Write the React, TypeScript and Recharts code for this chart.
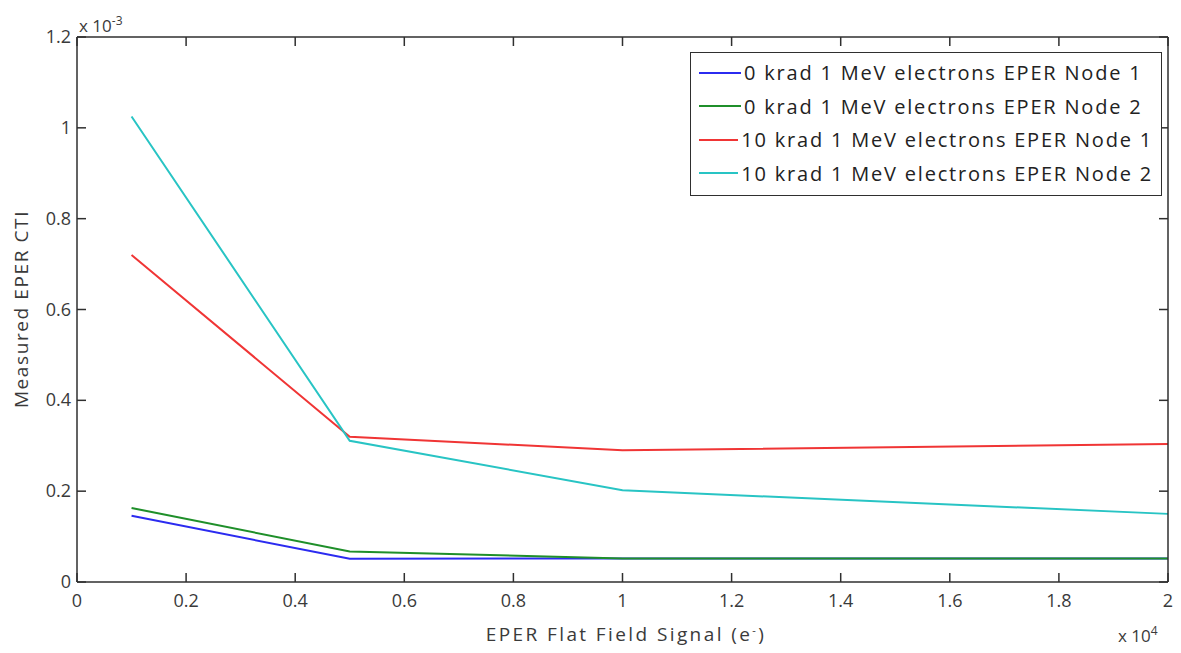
import React from 'react';
import { LineChart, Line, XAxis, YAxis } from 'recharts';

// EPER flat field signal (e-) and measured CTI for each run
const signal = [1000, 5000, 10000, 20000];
const krad0Node1 = [0.000146, 0.000051, 0.000052, 0.000052];
const krad0Node2 = [0.000163, 0.000067, 0.000052, 0.000052];
const krad10Node1 = [0.00072, 0.00032, 0.00029, 0.000304];
const krad10Node2 = [0.001025, 0.000311, 0.000202, 0.00015];

const xTicks = [0, 2000, 4000, 6000, 8000, 10000, 12000, 14000, 16000, 18000, 20000];
const yTicks = [0, 0.0002, 0.0004, 0.0006, 0.0008, 0.001, 0.0012];
const xMax = 20000;
const yMax = 0.0012;

const seriesNames = [
  '0 krad 1 MeV electrons EPER Node 1',
  '0 krad 1 MeV electrons EPER Node 2',
  '10 krad 1 MeV electrons EPER Node 1',
  '10 krad 1 MeV electrons EPER Node 2',
];
const seriesKeys = ['k0n1', 'k0n2', 'k10n1', 'k10n2'];
const seriesColors = ['#2b2bf0', '#1f8f2a', '#f03535', '#28c4c4'];

const data = signal.map((s, i) => ({
  signal: s,
  k0n1: krad0Node1[i],
  k0n2: krad0Node2[i],
  k10n1: krad10Node1[i],
  k10n2: krad10Node2[i],
}));

// chart layout
const W = 1181;
const H = 653;
const MARGIN = { top: 37, right: 13, left: 17, bottom: 31 };
const X_AXIS_H = 40;
const Y_AXIS_W = 60;
const PLOT_W = W - MARGIN.left - MARGIN.right - Y_AXIS_W;
const PLOT_H = H - MARGIN.top - MARGIN.bottom - X_AXIS_H;

const AXIS = '#2f2f2f';
const FONT = '"Open Sans", sans-serif';

const fmtX = (v: number) => parseFloat((v / 10000).toFixed(1)).toString();
const fmtY = (v: number) => parseFloat((v * 1000).toFixed(1)).toString();

// bottom tick + matching inward tick on the top edge (MATLAB style box)
const BottomTick = ({ x, y, payload }: any) => {
  const top = y - PLOT_H;
  const isFirst = payload.value === 0;
  return (
    <g>
      <line x1={x} y1={y} x2={x} y2={y - 9} stroke={AXIS} strokeWidth={1.5} />
      <line x1={x} y1={top} x2={x} y2={top + 9} stroke={AXIS} strokeWidth={1.5} />
      {isFirst && (
        <g>
          <line x1={x} y1={top} x2={x + PLOT_W} y2={top} stroke={AXIS} strokeWidth={1.5} />
          <line x1={x + PLOT_W} y1={y} x2={x + PLOT_W} y2={top} stroke={AXIS} strokeWidth={1.5} />
        </g>
      )}
      <text x={x} y={y + 25} textAnchor="middle" fontSize={18} fill="#3a3a3a" fontFamily={FONT}>
        {fmtX(payload.value)}
      </text>
    </g>
  );
};

// left tick + matching inward tick on the right edge
const LeftTick = ({ x, y, payload }: any) => {
  const right = x + PLOT_W;
  return (
    <g>
      <line x1={x} y1={y} x2={x + 9} y2={y} stroke={AXIS} strokeWidth={1.5} />
      <line x1={right} y1={y} x2={right - 9} y2={y} stroke={AXIS} strokeWidth={1.5} />
      <text x={x - 6} y={y + 6} textAnchor="end" fontSize={18} fill="#3a3a3a" fontFamily={FONT}>
        {fmtY(payload.value)}
      </text>
    </g>
  );
};

const LegendBox = () => (
  <div
    style={{
      position: 'absolute',
      left: 690,
      top: 52,
      width: 472,
      boxSizing: 'border-box',
      border: `1.5px solid ${AXIS}`,
      background: 'white',
      padding: '3px 8px 5px 8px',
      fontFamily: FONT,
      fontSize: 20,
      letterSpacing: 1.8,
      color: '#222',
    }}
  >
    {seriesNames.map((name, i) => (
      <div key={name} style={{ display: 'flex', alignItems: 'center', height: 33.5 }}>
        <span style={{ width: 42, height: 2, background: seriesColors[i], marginRight: 3 }} />
        <span style={{ whiteSpace: 'nowrap' }}>{name}</span>
      </div>
    ))}
  </div>
);

export default function App() {
  return (
    <div style={{ position: 'absolute', left: 0, top: 0, width: W, height: H, background: 'white' }}>
      <LineChart width={W} height={H} data={data} margin={MARGIN}>
        <XAxis
          dataKey="signal"
          type="number"
          domain={[0, xMax]}
          ticks={xTicks}
          interval={0}
          tickSize={0}
          tickMargin={0}
          tick={(p: any) => <BottomTick {...p} />}
          stroke={AXIS}
          strokeWidth={1.5}
          height={X_AXIS_H}
        />
        <YAxis
          type="number"
          domain={[0, yMax]}
          ticks={yTicks}
          interval={0}
          tickSize={0}
          tickMargin={0}
          tick={(p: any) => <LeftTick {...p} />}
          stroke={AXIS}
          strokeWidth={1.5}
          width={Y_AXIS_W}
        />
        {seriesKeys.map((k, i) => (
          <Line
            key={k}
            type="linear"
            dataKey={k}
            name={seriesNames[i]}
            stroke={seriesColors[i]}
            strokeWidth={2}
            dot={false}
            isAnimationActive={false}
          />
        ))}
      </LineChart>
      <LegendBox />
      <div style={{ position: 'absolute', left: 79, top: 12, fontFamily: FONT, fontSize: 17, color: '#3a3a3a' }}>
        x 10<sup style={{ fontSize: 12 }}>-3</sup>
      </div>
      <div style={{ position: 'absolute', left: 1118, top: 622, fontFamily: FONT, fontSize: 17, color: '#3a3a3a' }}>
        x 10<sup style={{ fontSize: 12 }}>4</sup>
      </div>
      <div
        style={{
          position: 'absolute',
          left: 626,
          top: 634,
          transform: 'translate(-50%, -50%)',
          fontFamily: FONT,
          fontSize: 19,
          letterSpacing: 2.4,
          color: '#3a3a3a',
          whiteSpace: 'nowrap',
        }}
      >
        EPER Flat Field Signal (e<sup style={{ fontSize: 11 }}>-</sup>)
      </div>
      <div
        style={{
          position: 'absolute',
          left: 21,
          top: 309,
          transform: 'translate(-50%, -50%) rotate(-90deg)',
          fontFamily: FONT,
          fontSize: 19,
          letterSpacing: 1.6,
          color: '#3a3a3a',
          whiteSpace: 'nowrap',
        }}
      >
        Measured EPER CTI
      </div>
    </div>
  );
}
